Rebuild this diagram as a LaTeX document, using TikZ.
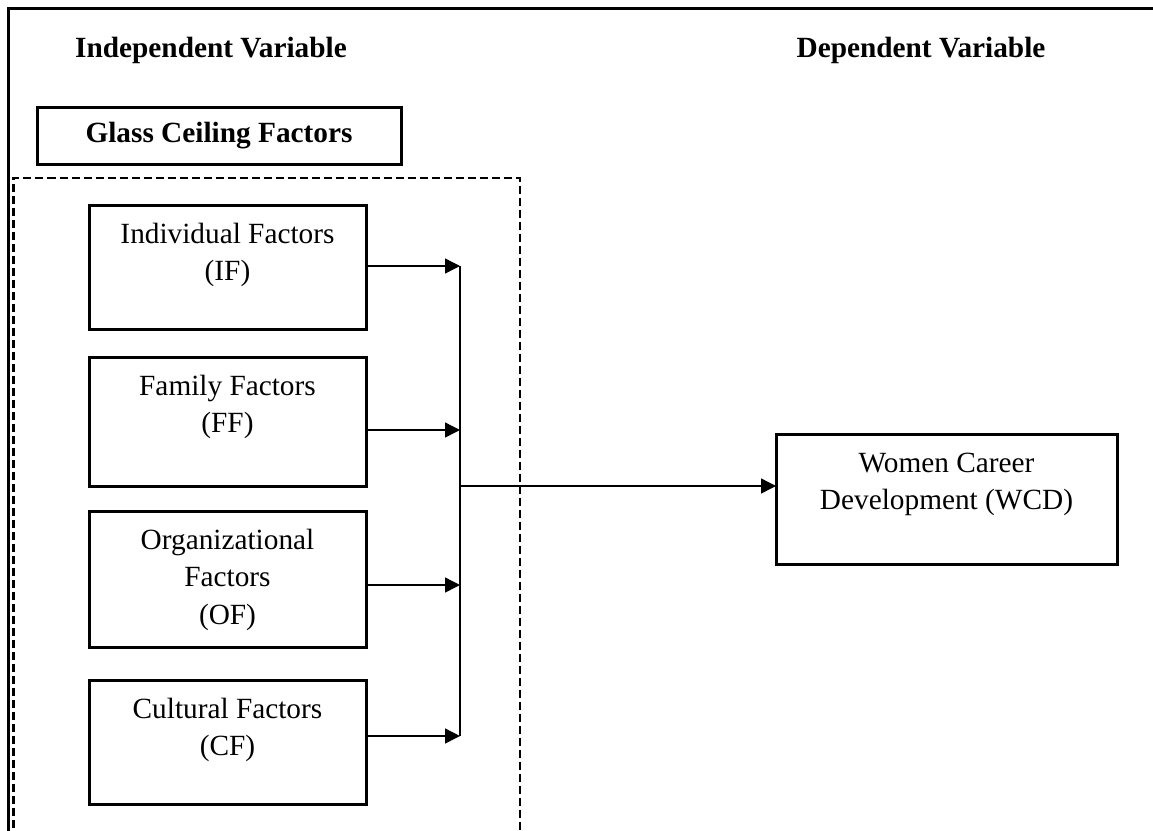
\documentclass[tikz,border=0pt]{standalone}
\usepackage{fontspec}
\setmainfont{Liberation Serif}
\usetikzlibrary{arrows.meta}
\newcommand{\boxtxt}[3]{\parbox[c][#2][t]{#1}{\centering\rule{0pt}{38pt}#3}}
\begin{document}
\begin{tikzpicture}[x=1pt,y=-1pt,
  font=\fontsize{29.3}{37.5}\selectfont,
  factor/.style={draw, line width=3pt, inner sep=0pt, outer sep=0pt},
  head/.style={font=\fontsize{29.3}{37.5}\selectfont\bfseries, anchor=base},
  conn/.style={line width=1.4pt, -{Triangle[length=15pt,width=15pt]}},
  bus/.style={line width=1.4pt},
  outerframe/.style={line width=3pt},
  dashbox/.style={line width=2.4pt, dash pattern=on 8pt off 4pt}]
\useasboundingbox (0,0) rectangle (1153,830);
\draw[outerframe] (8,840) -- (8,8) -- (1160,8);
\draw[dashbox] (13.5,840) -- (13.5,178) -- (520,178) -- (520,840);

\node[head] (iv) at (211,57) {Independent Variable};
\node[head] (dv) at (921,57) {Dependent Variable};

\node[factor] (gc) at (219,135.5) {\parbox[c][57pt][c]{364pt}{\centering\bfseries Glass Ceiling Factors}};

\node[factor] (IF) at (227.5,267) {\boxtxt{277pt}{124pt}{Individual Factors\\(IF)}};
\node[factor] (FF) at (227.5,421.5) {\boxtxt{277pt}{129pt}{Family Factors\\(FF)}};
\node[factor] (OF) at (227.5,579) {\boxtxt{277pt}{136pt}{Organizational\\Factors\\(OF)}};
\node[factor] (CF) at (227.5,742) {\boxtxt{277pt}{124pt}{Cultural Factors\\(CF)}};
\node[factor] (WCD) at (946.5,499) {\boxtxt{341pt}{130pt}{Women Career\\Development (WCD)}};

\coordinate (b1) at (460,266);
\coordinate (b2) at (460,430);
\coordinate (b3) at (460,585);
\coordinate (b4) at (460,736);
\coordinate (bm) at (460,486);

\draw[bus] (b1) -- (b4);
\draw[conn] (IF.east |- b1) -- (b1);
\draw[conn] (FF.east |- b2) -- (b2);
\draw[conn] (OF.east |- b3) -- (b3);
\draw[conn] (CF.east |- b4) -- (b4);
\draw[conn] (bm) -- (WCD.west |- bm);
\end{tikzpicture}
\end{document}
